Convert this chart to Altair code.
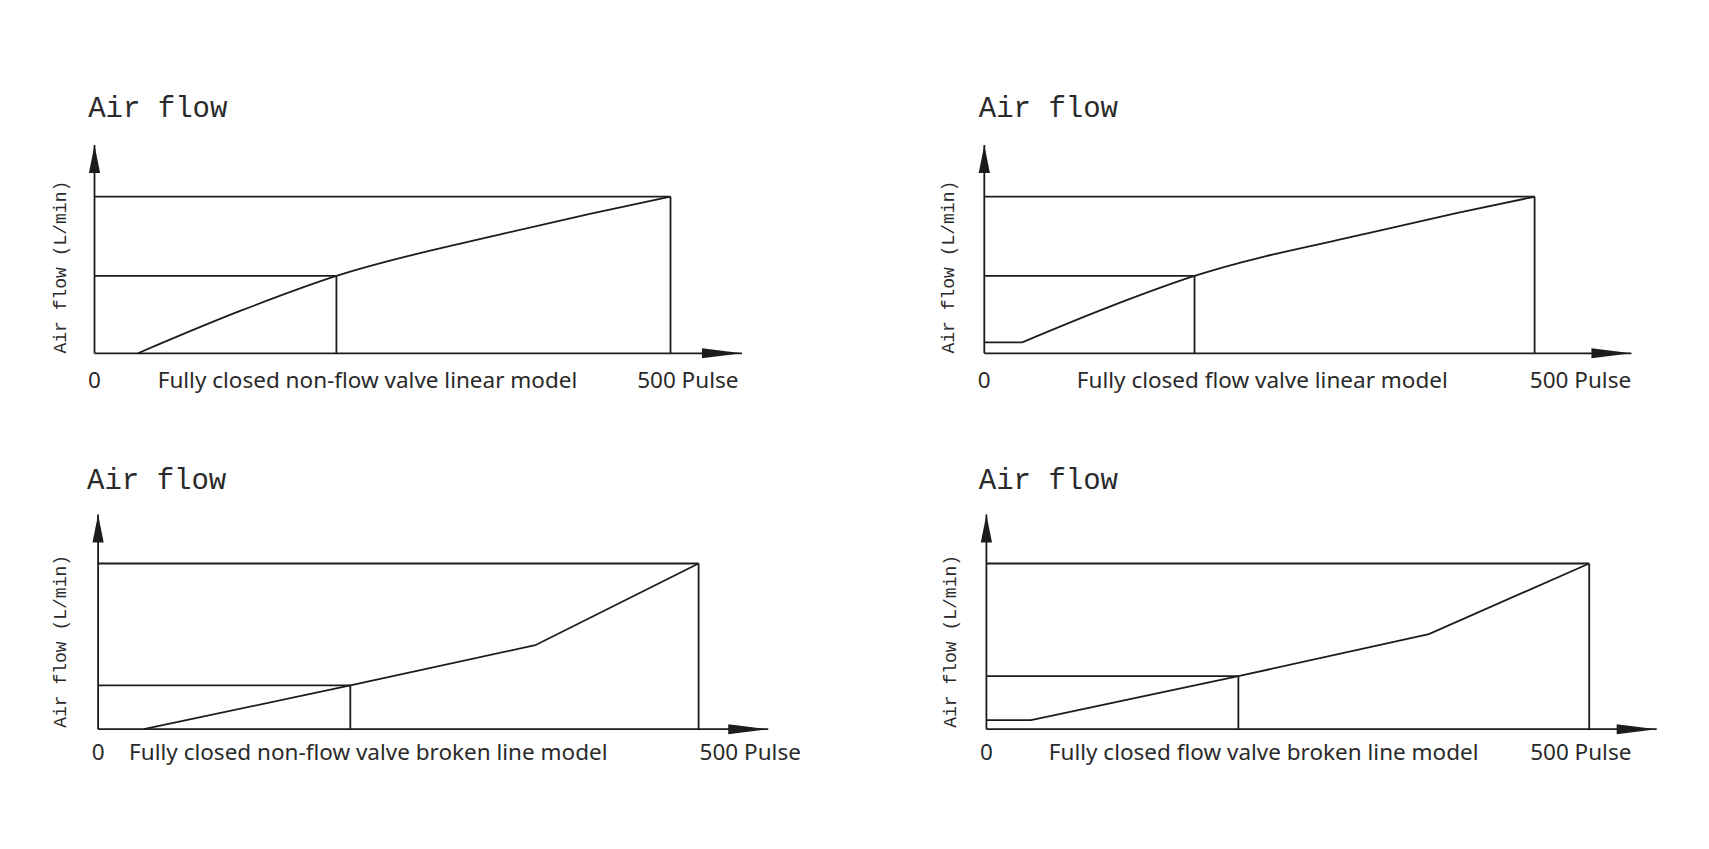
import altair as alt
import pandas as pd

# ---------------- data ----------------
TITLE = "Air flow"
YLABEL = "Air flow (L/min)"
ZERO_LABEL = "0"
END_LABEL = "500 Pulse"
MODELS = [
    "Fully closed non-flow valve linear model",
    "Fully closed flow valve linear model",
    "Fully closed non-flow valve broken line model",
    "Fully closed flow valve broken line model",
]

FULL_PULSE = 500      # full-open pulse count
FULL_FLOW = 100       # relative full flow

p1_pulse = [37.6, 127, 210, 355, 430, 500]
p1_flow = [0, 27.2, 49.4, 76.4, 89, 100]
p2_pulse = [0, 34.4, 110, 191, 353, 430, 500]
p2_flow = [7, 7, 28.7, 49.4, 77.3, 89.6, 100]
p3_pulse = [38, 210, 364, 500]
p3_flow = [0, 26.4, 50.7, 100]
p4_pulse = [0, 37, 209, 367, 500]
p4_flow = [5.5, 5.5, 32, 57.4, 100]

mid_pulse = [210, 191, 210, 209]
mid_flow = [49.4, 49.4, 26.4, 32]
flat_points = [0, 2, 0, 2]   # number of points on the leading flat (leak) segment

curves = [(p1_pulse, p1_flow), (p2_pulse, p2_flow), (p3_pulse, p3_flow), (p4_pulse, p4_flow)]

# ---------------- layout / style ----------------
LAYOUT = [
    dict(ox=94.5, oy=353.3, sx=1.152, sy=1.566, W=855, H=425, tip_x=562, tip_y=133,
         title_x=-5.5, title_y=151, yl_x=-29, yl_y=55, model_x=237, pulse_x=515, ldy=28,
         interp="monotone"),
    dict(ox=129.3, oy=353.3, sx=1.1006, sy=1.566, W=854, H=425, tip_x=588, tip_y=133,
         title_x=-5, title_y=151, yl_x=-32, yl_y=55, model_x=252.6, pulse_x=541.7, ldy=28,
         interp="monotone"),
    dict(ox=98.1, oy=304.2, sx=1.201, sy=1.657, W=855, H=424, tip_x=558, tip_y=129.6,
         title_x=-9.2, title_y=144.7, yl_x=-30.8, yl_y=53, model_x=225, pulse_x=543, ldy=24,
         interp="linear"),
    dict(ox=131.4, oy=304.2, sx=1.2056, sy=1.657, W=854, H=424, tip_x=556, tip_y=129.6,
         title_x=-6.3, title_y=144.7, yl_x=-29, yl_y=53, model_x=230, pulse_x=493, ldy=24,
         interp="linear"),
]

INK = "#1c1c1c"
TEXT = "#2a2a2a"
LW = 1.8
ARROW_RIGHT = "M0,0 L-1,-0.125 L-1,0.125 Z"
ARROW_UP = "M0,0 L-0.2,1 L0.2,1 Z"


def panel(i):
    c = LAYOUT[i]
    x0 = -c["ox"] / c["sx"]
    x1 = (c["W"] - c["ox"]) / c["sx"]
    y0 = (c["oy"] - c["H"]) / c["sy"]
    y1 = c["oy"] / c["sy"]
    xs = alt.Scale(domain=[x0, x1], nice=False, zero=False)
    ys = alt.Scale(domain=[y0, y1], nice=False, zero=False)

    def X(f):
        return alt.X(f, type="quantitative", scale=xs, axis=None)

    def Y(f):
        return alt.Y(f, type="quantitative", scale=ys, axis=None)

    mx, my = mid_pulse[i], mid_flow[i]
    segs = pd.DataFrame([
        dict(x=0, y=0, x2=c["tip_x"], y2=0),
        dict(x=0, y=0, x2=0, y2=c["tip_y"]),
        dict(x=0, y=FULL_FLOW, x2=FULL_PULSE, y2=FULL_FLOW),
        dict(x=FULL_PULSE, y=0, x2=FULL_PULSE, y2=FULL_FLOW),
        dict(x=0, y=my, x2=mx, y2=my),
        dict(x=mx, y=0, x2=mx, y2=my),
    ])
    rules = alt.Chart(segs).mark_rule(color=INK, strokeWidth=LW).encode(
        x=X("x"), y=Y("y"), x2="x2", y2="y2")

    px, py = curves[i]
    nflat = flat_points[i]
    rows = []
    for k, (a, b) in enumerate(zip(px, py)):
        if nflat and k < nflat:
            rows.append(dict(x=a, y=b, seg=0, o=k))
        if not nflat or k >= nflat - 1:
            rows.append(dict(x=a, y=b, seg=1, o=k))
    cdf = pd.DataFrame(rows)
    line = alt.Chart(cdf).mark_line(color=INK, strokeWidth=LW, interpolate=c["interp"]).encode(
        x=X("x"), y=Y("y"), detail="seg:N", order="o:Q")

    ar = alt.Chart(pd.DataFrame([dict(x=c["tip_x"], y=0)])).mark_point(
        shape=ARROW_RIGHT, size=6400, filled=True, color=INK, opacity=1, strokeWidth=0
    ).encode(x=X("x"), y=Y("y"))
    au = alt.Chart(pd.DataFrame([dict(x=0, y=c["tip_y"])])).mark_point(
        shape=ARROW_UP, size=3136, filled=True, color=INK, opacity=1, strokeWidth=0
    ).encode(x=X("x"), y=Y("y"))

    title = alt.Chart(pd.DataFrame([dict(x=c["title_x"], y=c["title_y"], t=TITLE)])).mark_text(
        font="Liberation Mono", fontSize=29, align="left", baseline="alphabetic", color=TEXT
    ).encode(x=X("x"), y=Y("y"), text="t:N")

    ylab = alt.Chart(pd.DataFrame([dict(x=c["yl_x"], y=c["yl_y"], t=YLABEL)])).mark_text(
        font="Liberation Mono", fontSize=18, angle=270, align="center", baseline="middle", color=TEXT
    ).encode(x=X("x"), y=Y("y"), text="t:N")

    bl = pd.DataFrame([
        dict(x=0, y=0, t=ZERO_LABEL),
        dict(x=c["model_x"], y=0, t=MODELS[i]),
        dict(x=c["pulse_x"], y=0, t=END_LABEL),
    ])
    blab = alt.Chart(bl).mark_text(
        font="Noto Sans", fontSize=22.5, align="center", baseline="middle", dy=c["ldy"], color=TEXT
    ).encode(x=X("x"), y=Y("y"), text="t:N")

    return alt.layer(rules, line, ar, au, title, ylab, blab).properties(width=c["W"], height=c["H"])


top = alt.hconcat(panel(0), panel(1), spacing=0)
bottom = alt.hconcat(panel(2), panel(3), spacing=0)
chart = alt.vconcat(top, bottom, spacing=0).properties(
    padding=0, background="white"
).configure_view(strokeWidth=0)

chart.save("out.html", embed_options={"renderer": "svg", "actions": False})
